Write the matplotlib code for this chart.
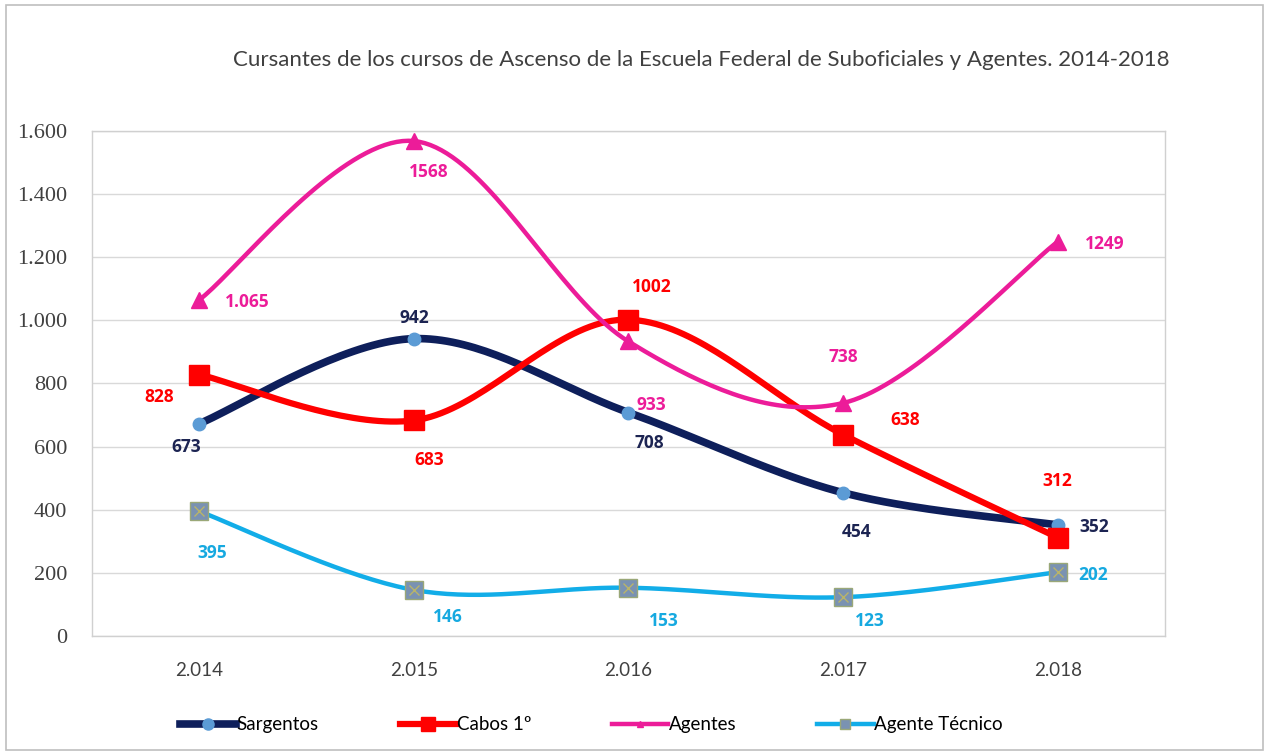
import numpy as np
import matplotlib
matplotlib.use('Agg')
import matplotlib.pyplot as plt
from matplotlib.patches import Rectangle
from matplotlib.lines import Line2D

#---- Data -------------------------------------------------------------------#

years = ['2.014', '2.015', '2.016', '2.017', '2.018']
sargentos = [673, 942, 708, 454, 352]
cabos = [828, 683, 1002, 638, 312]
agentes = [1065, 1568, 933, 738, 1249]
tecnico = [395, 146, 153, 123, 202]

sargentos_lbl = ['673', '942', '708', '454', '352']
cabos_lbl = ['828', '683', '1002', '638', '312']
agentes_lbl = ['1.065', '1568', '933', '738', '1249']
tecnico_lbl = ['395', '146', '153', '123', '202']

title = 'Cursantes de los cursos de Ascenso de la Escuela Federal de Suboficiales y Agentes. 2014-2018'

#---- Helpers ----------------------------------------------------------------#

def smooth(x, y, n=40):
    """Excel-like smoothed line (Catmull-Rom as cubic Bezier)."""
    p = np.column_stack([x, y]).astype(float)
    p = np.vstack([p[0], p, p[-1]])
    out = []
    t = np.linspace(0, 1, n)[:, None]
    for i in range(1, len(p) - 2):
        p0, p1 = p[i], p[i + 1]
        c1 = p0 + (p[i + 1] - p[i - 1]) / 6
        c2 = p1 - (p[i + 2] - p[i]) / 6
        seg = ((1 - t)**3 * p0 + 3 * (1 - t)**2 * t * c1
               + 3 * (1 - t) * t**2 * c2 + t**3 * p1)
        out.append(seg if i == 1 else seg[1:])
    out = np.vstack(out)
    return out[:, 0], out[:, 1]

#---- Plotting ---------------------------------------------------------------#

fig = plt.figure(figsize=(12.69, 7.55), dpi=100)
ax = fig.add_axes([0.0725, 0.1576, 0.8455, 0.669])

xs = np.arange(len(years))

series = [
    # values, labels, line colour, lw, marker, msize, mface, medge, text colour, offsets(px)
    (sargentos, sargentos_lbl, '#0E1F5B', 5.5, 'o', 9, '#5B9BD5', '#5B9BD5', '#1C2452',
     [(-13, -23), (0, 21), (21, -30), (14, -39), (37, -2)]),
    (cabos, cabos_lbl, '#FF0000', 4.5, 's', 15, '#FF0000', '#FF0000', '#FF0000',
     [(-40, -22), (15, -40), (23, 33), (62, 15), (0, 57)]),
    (agentes, agentes_lbl, '#EC1C99', 3.2, '^', 11, '#EC1C99', '#EC1C99', '#EC1C99',
     [(48, -2), (15, -31), (23, -64), (0, 46), (47, -2)]),
    (tecnico, tecnico_lbl, '#12ADE8', 3.2, 's', 13, '#7A92B2', '#9AA878', '#16A9E0',
     [(13, -42), (34, -27), (35, -33), (27, -24), (35, -3)]),
]

for vals, lbls, col, lw, mk, ms, mf, me, tc, offs in series:
    sx, sy = smooth(xs, vals)
    ax.plot(sx, sy, color=col, lw=lw, solid_capstyle='round', zorder=3)
    ax.plot(xs, vals, ls='none', marker=mk, ms=ms, mfc=mf, mec=me, mew=1, zorder=4)
    if mk == 's' and mf == '#7A92B2':
        ax.plot(xs, vals, ls='none', marker='x', ms=ms * 0.6, mec='#B9B46A', mew=1, zorder=5)
    for xi, v, t, (dx, dy) in zip(xs, vals, lbls, offs):
        ax.annotate(t, (xi, v), xytext=(dx, dy), textcoords='offset pixels',
                    ha='center', va='center', fontsize=12.5, fontweight='bold',
                    color=tc, family=['Open Sans', 'DejaVu Sans'], zorder=6)

ax.set_xlim(-0.5, len(years) - 0.5)
ax.set_ylim(0, 1600)
ax.set_yticks(np.arange(0, 1601, 200))
ax.set_yticklabels(['0', '200', '400', '600', '800', '1.000', '1.200', '1.400', '1.600'],
                   family=['Liberation Serif', 'DejaVu Serif'], fontsize=16, color='#404040')
ax.set_xticks(xs)
ax.set_xticklabels(years, family=['Lato', 'DejaVu Sans'], fontsize=13.5, color='#404040')
ax.tick_params(axis='y', length=0, pad=18)
ax.tick_params(axis='x', length=0, pad=19)
ax.grid(axis='y', color='#D9D9D9', lw=1)
ax.set_axisbelow(True)
for s in ax.spines.values():
    s.set_color('#D0D0D0')
    s.set_linewidth(1)

fig.text(0.553, 0.92, title, ha='center', va='center', fontsize=16,
         color='#404040', family=['Lato', 'DejaVu Sans'])

#Legend
handles = [
    Line2D([], [], color='#0E1F5B', lw=5.5, marker='o', ms=8, mfc='#5B9BD5', mec='#5B9BD5'),
    Line2D([], [], color='#FF0000', lw=4.5, marker='s', ms=10, mfc='#FF0000', mec='#FF0000'),
    Line2D([], [], color='#EC1C99', lw=3.2, marker='^', ms=5, mfc='#EC1C99', mec='#EC1C99'),
    Line2D([], [], color='#12ADE8', lw=3.2, marker='s', ms=7, mfc='#7A92B2', mec='#9AA878'),
]
fig.legend(handles, ['Sargentos', 'Cabos 1º', 'Agentes', 'Agente Técnico'],
           loc='center', bbox_to_anchor=(0.466, 0.04), ncol=4, frameon=False,
           handlelength=3.0, handletextpad=0.05, columnspacing=4.3,
           prop={'family': ['Lato', 'DejaVu Sans'], 'size': 13.5})

#Outer chart border
fig.patches.append(Rectangle((0.005, 0.006), 0.99, 0.988, transform=fig.transFigure,
                             fill=False, ec='#BFBFBF', lw=1.2))

plt.savefig('out.png', dpi=100)
